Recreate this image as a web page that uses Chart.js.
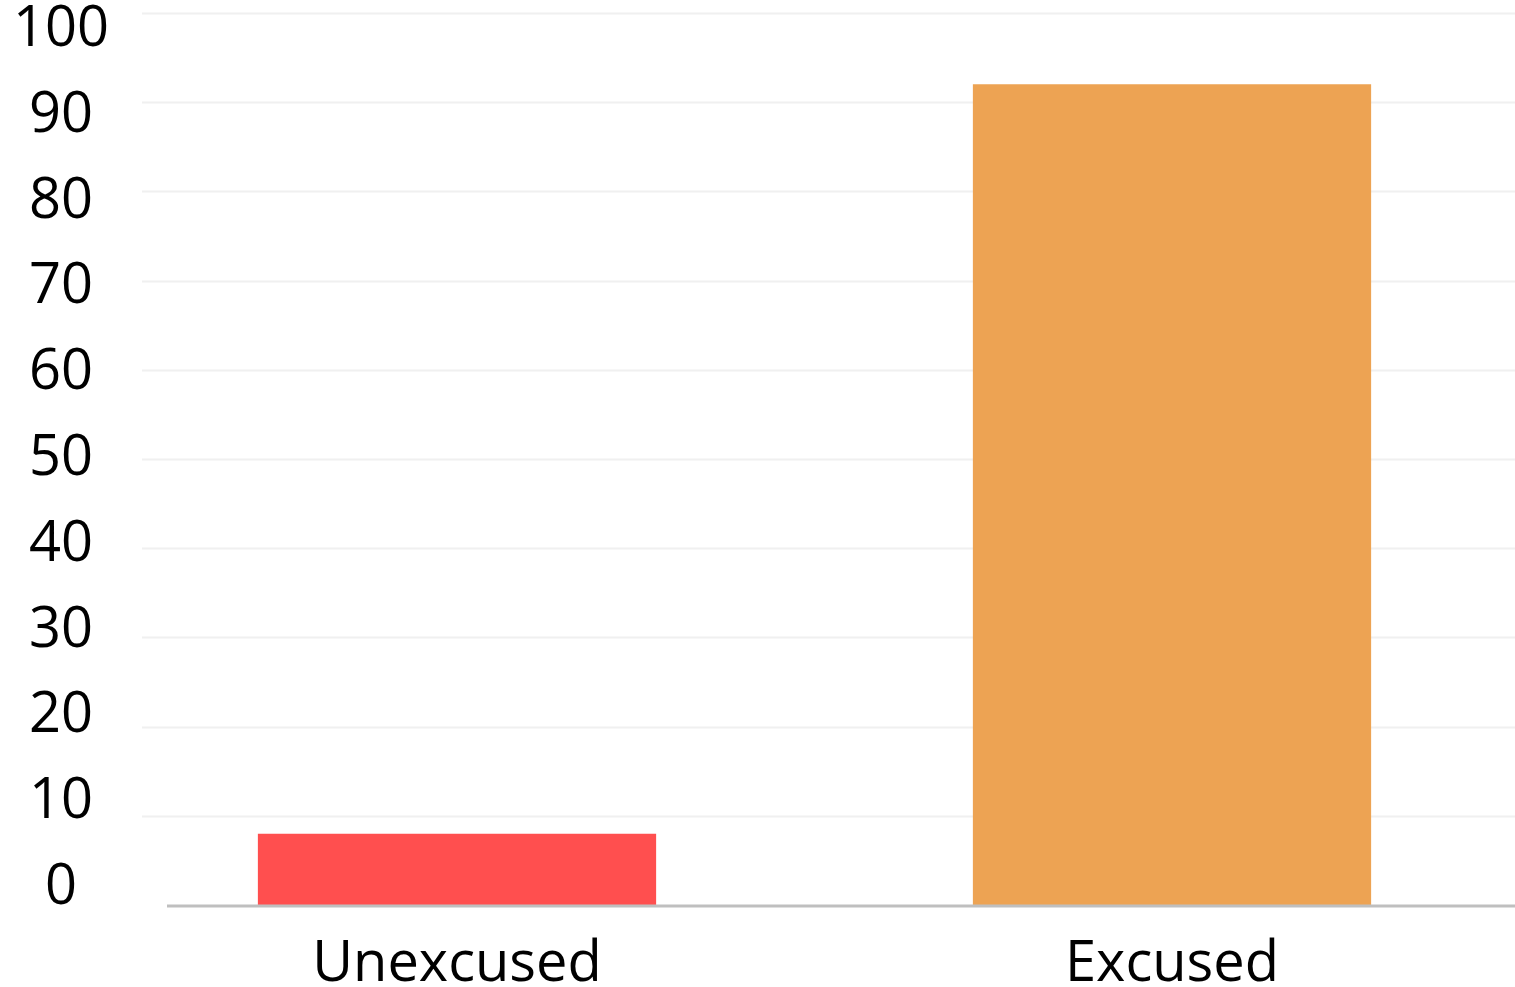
<!DOCTYPE html>
<html>
<head>
<meta charset="utf-8">
<title>Absences</title>
<script src="https://cdn.jsdelivr.net/npm/chart.js@4/dist/chart.umd.min.js"></script>
<style>
  html, body { margin: 0; padding: 0; background: #fff; overflow: hidden; }
  #wrap { width: 1530px; height: 987px; position: relative; }
</style>
</head>
<body>
<div id="wrap"><canvas id="chartAusencias"></canvas></div>
<script>
// datos
const categorias = ['Unexcused', 'Excused'];
const valores = [8, 92];
const coloresBarras = ['#FF4F4F', '#EDA353'];
const ticksY = [0, 10, 20, 30, 40, 50, 60, 70, 80, 90, 100];

const FUENTE = '"Open Sans", Lato, sans-serif';
const TAM = 56;

// rejilla, linea base y etiquetas del eje y dibujadas a mano
const ejeManual = {
  id: 'ejeManual',
  beforeDatasetsDraw(chart) {
    const ctx = chart.ctx;
    const y = chart.scales.y;
    ctx.save();
    ctx.strokeStyle = '#F0F0F0';
    ctx.lineWidth = 2;
    ticksY.forEach((v) => {
      if (v === 0) return;
      const py = Math.round(y.getPixelForValue(v)) + 0.5;
      ctx.beginPath();
      ctx.moveTo(142, py);
      ctx.lineTo(chart.width, py);
      ctx.stroke();
    });
    ctx.restore();
  },
  afterDatasetsDraw(chart) {
    const ctx = chart.ctx;
    const y = chart.scales.y;
    const base = y.getPixelForValue(0);
    ctx.save();
    ctx.strokeStyle = '#BFBFBF';
    ctx.lineWidth = 3;
    ctx.beginPath();
    ctx.moveTo(167, base + 1);
    ctx.lineTo(chart.width, base + 1);
    ctx.stroke();

    // etiquetas un poco recogidas hacia el centro
    const top = y.top, alto = y.bottom - y.top;
    ctx.fillStyle = '#000';
    ctx.font = TAM + 'px ' + FUENTE;
    ctx.textAlign = 'center';
    ctx.textBaseline = 'middle';
    ticksY.forEach((v) => {
      const p = y.getPixelForValue(v);
      const py = top + 17 + (p - top) * (alto - 34) / alto;
      ctx.fillText(String(v), 61, py);
    });
    ctx.restore();
  }
};

const ctx = document.getElementById('chartAusencias').getContext('2d');
new Chart(ctx, {
  type: 'bar',
  data: {
    labels: categorias,
    datasets: [
      {
        label: 'Absences',
        data: valores,
        backgroundColor: coloresBarras,
        borderWidth: 0,
        barPercentage: 0.557,
        categoryPercentage: 1.0,
      },
    ],
  },
  options: {
    responsive: true,
    maintainAspectRatio: false,
    animation: false,
    layout: {
      padding: { top: 13, left: 99.5, right: 0.5, bottom: 0 },
    },
    plugins: {
      legend: { display: false },
      tooltip: { enabled: false },
    },
    scales: {
      x: {
        grid: { display: false },
        border: { display: false },
        afterFit: (scale) => {
          scale.height = 82;
        },
        ticks: {
          color: '#000',
          padding: 24,
          font: { size: TAM, family: FUENTE, lineHeight: 1.0 },
        },
      },
      y: {
        display: false,
        min: 0,
        max: 100,
      },
    },
  },
  plugins: [ejeManual],
});
</script>
</body>
</html>
